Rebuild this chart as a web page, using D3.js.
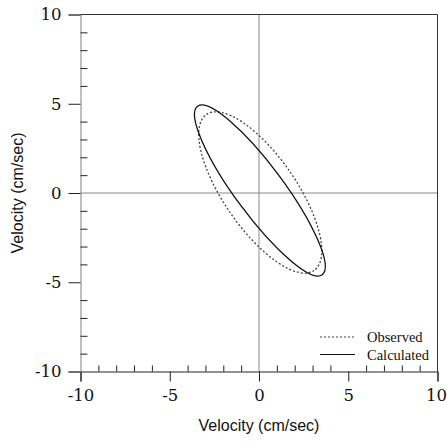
<!DOCTYPE html>
<html>
<head>
<meta charset="utf-8">
<script src="https://cdn.jsdelivr.net/npm/d3@7"></script>
<style>
  html, body { margin: 0; padding: 0; background: #fff; }
  svg { display: block; }
</style>
</head>
<body>
<div id="chart"></div>
<script>
// ---- data ----
const seriesNames = ["Observed", "Calculated"];
// tidal-current hodograph ellipses (cm/sec)
const semiMajor = [5.31, 5.87];
const semiMinor = [2.03, 1.36];
const orientationDeg = [-55.4, -53.5];   // major-axis direction, counter-clockwise from +x
const centerU = [0.07, 0.05];
const centerV = [0.03, 0.14];
const majorTicks = [-10, -5, 0, 5, 10];
const minorTicks = [-9, -8, -7, -6, -4, -3, -2, -1, 1, 2, 3, 4, 6, 7, 8, 9];
const xTitle = "Velocity (cm/sec)";
const yTitle = "Velocity (cm/sec)";

// ---- layout ----
const W = 447, H = 444;
const mLeft = 80.5, mRight = 437.5, mTop = 14.5, mBottom = 371.5;

const svg = d3.select("#chart").append("svg")
  .attr("width", W).attr("height", H);

const x = d3.scaleLinear().domain([-10, 10]).range([mLeft, mRight]);
const y = d3.scaleLinear().domain([-10, 10]).range([mBottom, mTop]);

const serif = "'DejaVu Serif', 'Liberation Serif', serif";
const sans = "'Liberation Sans', Arial, sans-serif";

// zero lines
svg.append("line").attr("x1", x(0)).attr("x2", x(0)).attr("y1", y(10)).attr("y2", y(-10))
  .attr("stroke", "#8a8a8a").attr("stroke-width", 1);
svg.append("line").attr("x1", x(-10)).attr("x2", x(10)).attr("y1", y(0)).attr("y2", y(0))
  .attr("stroke", "#8a8a8a").attr("stroke-width", 1);

// frame: top & right
svg.append("line").attr("x1", x(-10)).attr("x2", x(10)).attr("y1", y(10)).attr("y2", y(10))
  .attr("stroke", "#333").attr("stroke-width", 1);
svg.append("line").attr("x1", x(10)).attr("x2", x(10)).attr("y1", y(10)).attr("y2", y(-10))
  .attr("stroke", "#333").attr("stroke-width", 1);

const fmt = d => d < 0 ? "-" + Math.abs(d) : String(d);

// bottom axis
const xAxis = svg.append("g").attr("transform", `translate(0,${mBottom})`)
  .call(d3.axisBottom(x).tickValues(majorTicks).tickSize(10).tickPadding(8).tickFormat(fmt));
xAxis.select(".domain").attr("stroke", "#222");
xAxis.selectAll(".tick line").attr("stroke", "#222");
xAxis.selectAll("text").attr("font-family", serif).attr("font-size", 16.5).attr("fill", "#111")
  .attr("dx", d => d === 10 ? -1.5 : 0);
const xMinor = svg.append("g").attr("transform", `translate(0,${mBottom})`)
  .call(d3.axisTop(x).tickValues(minorTicks).tickSize(6).tickFormat(""));
xMinor.select(".domain").remove();
xMinor.selectAll(".tick line").attr("stroke", "#222");

// left axis
const yAxis = svg.append("g").attr("transform", `translate(${mLeft},0)`)
  .call(d3.axisLeft(y).tickValues(majorTicks).tickSize(12).tickPadding(7).tickFormat(fmt));
yAxis.select(".domain").attr("stroke", "#808080");
yAxis.selectAll(".tick line").attr("stroke", "#222");
yAxis.selectAll("text").attr("font-family", serif).attr("font-size", 16.5).attr("fill", "#111");
const yMinor = svg.append("g").attr("transform", `translate(${mLeft},0)`)
  .call(d3.axisRight(y).tickValues(minorTicks).tickSize(7).tickFormat(""));
yMinor.select(".domain").remove();
yMinor.selectAll(".tick line").attr("stroke", "#222");

// ellipses
const styles = [
  { stroke: "#444", width: 1.3, dash: "2,2" },
  { stroke: "#111", width: 1.3, dash: null }
];
seriesNames.forEach((name, i) => {
  const cx = x(centerU[i]), cy = y(centerV[i]);
  svg.append("ellipse")
    .attr("cx", cx).attr("cy", cy)
    .attr("rx", x(semiMajor[i]) - x(0))
    .attr("ry", y(0) - y(semiMinor[i]))
    .attr("transform", `rotate(${-orientationDeg[i]},${cx},${cy})`)
    .attr("fill", "none")
    .attr("stroke", styles[i].stroke)
    .attr("stroke-width", styles[i].width)
    .attr("stroke-dasharray", styles[i].dash);
});

// legend
const legY = [337, 354.5];
seriesNames.forEach((name, i) => {
  svg.append("line").attr("x1", 320).attr("x2", 355).attr("y1", legY[i]).attr("y2", legY[i])
    .attr("stroke", styles[i].stroke).attr("stroke-width", 1.2)
    .attr("stroke-dasharray", styles[i].dash);
  svg.append("text").attr("x", 367).attr("y", legY[i] + 5)
    .attr("font-family", "'Liberation Serif', serif").attr("font-size", 14.5)
    .attr("fill", "#111").text(name);
});

// titles
svg.append("text").attr("x", (mLeft + mRight) / 2).attr("y", 431)
  .attr("text-anchor", "middle").attr("font-family", sans).attr("font-size", 16)
  .attr("fill", "#111").text(xTitle);
svg.append("text").attr("transform", `translate(23,${(mTop + mBottom) / 2}) rotate(-90)`)
  .attr("text-anchor", "middle").attr("font-family", sans).attr("font-size", 16)
  .attr("fill", "#111").text(yTitle);
</script>
</body>
</html>
